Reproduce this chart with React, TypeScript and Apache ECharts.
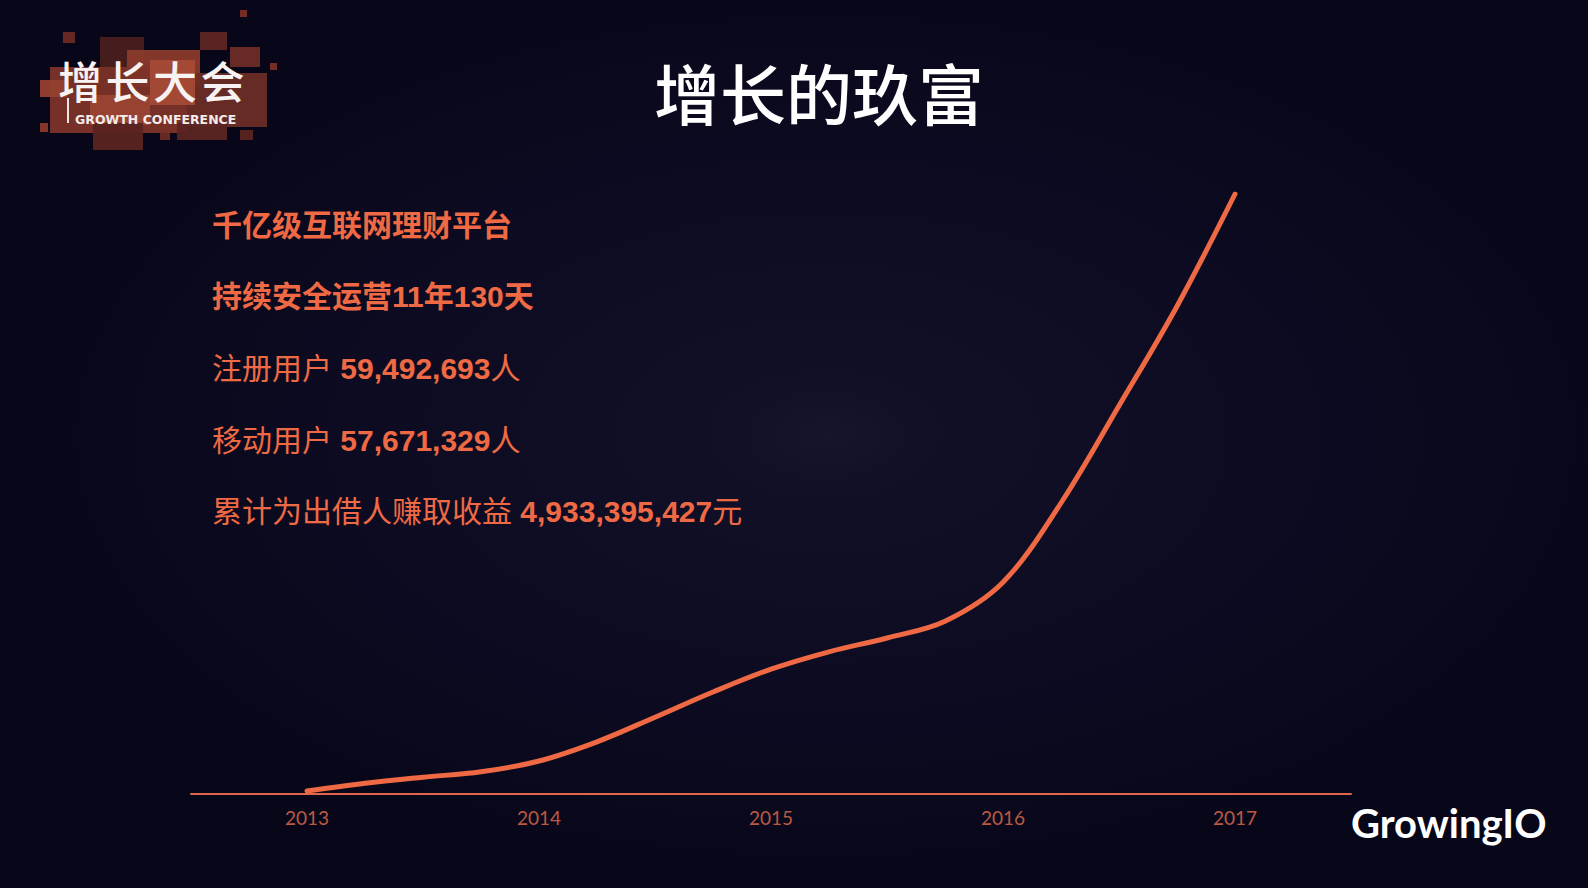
import React, { useEffect, useRef } from "react";
import * as echarts from "echarts";

const yearLabels = ["2013", "2014", "2015", "2016", "2017"];
const curveYears = [2013, 2013.25, 2013.5, 2013.75, 2014, 2014.25, 2014.5, 2014.75, 2015, 2015.25, 2015.5, 2015.75, 2016, 2016.25, 2016.5, 2016.75, 2017];
const curveValues = [0.5, 1.8, 2.8, 3.7, 5.5, 8.7, 12.8, 17, 20.8, 23.7, 26, 28.8, 35.3, 48.5, 64.7, 81.3, 100];

const titleText = "增长的玖富";
const logoChars = ["增", "长", "大", "会"];
const boldLines = ["千亿级互联网理财平台", "持续安全运营11年130天"];
const statLabels = ["注册用户 ", "移动用户 ", "累计为出借人赚取收益 "];
const statNumbers = ["59,492,693", "57,671,329", "4,933,395,427"];
const statUnits = ["人", "人", "元"];

// logo pixel squares: [x, y, w, h, color]
const logoSquares: [number, number, number, number, string][] = [
  [240, 10, 7, 7, "#7a2e26"],
  [63, 32, 12, 11, "#6a2a24"],
  [100, 37, 44, 30, "#4a1f1e"],
  [200, 32, 27, 18, "#5e2622"],
  [230, 47, 30, 20, "#6e2c25"],
  [270, 63, 7, 7, "#7a3027"],
  [127, 50, 73, 37, "#8a3a2c"],
  [50, 67, 137, 66, "#7c3329"],
  [187, 73, 80, 54, "#6d2d26"],
  [40, 80, 27, 17, "#93402f"],
  [150, 60, 45, 45, "#a44a36"],
  [90, 95, 60, 30, "#9a4533"],
  [40, 123, 8, 9, "#8a3a2c"],
  [93, 123, 50, 27, "#5a2421"],
  [160, 133, 10, 7, "#6a2a24"],
  [177, 123, 50, 17, "#5c2522"],
  [240, 130, 13, 10, "#5a2421"],
];

export default function App() {
  const ref = useRef<HTMLDivElement>(null);
  useEffect(() => {
    if (!ref.current) return;
    const chart = echarts.init(ref.current, null, { renderer: "svg" });
    const cjk = "'Liberation Sans', 'Noto Sans CJK SC', sans-serif";
    const orange = "#ef6a44";
    const textLines: any[] = [];
    const lineYs = [225, 296, 368, 440, 511];
    boldLines.forEach((t, i) => {
      textLines.push({
        type: "text",
        x: 212,
        y: lineYs[i],
        style: {
          text: t,
          fill: orange,
          font: `bold 30px ${cjk}`,
          verticalAlign: "middle",
        },
      });
    });
    statLabels.forEach((t, i) => {
      textLines.push({
        type: "text",
        x: 212,
        y: lineYs[i + 2],
        style: {
          text: `{a|${t}}{b|${statNumbers[i]}}{a|${statUnits[i]}}`,
          verticalAlign: "middle",
          rich: {
            a: { fill: orange, fontSize: 30, fontFamily: cjk, fontWeight: "normal" },
            b: { fill: orange, fontSize: 30, fontFamily: cjk, fontWeight: "bold" },
          },
        },
      });
    });

    const squares = logoSquares.map(([x, y, w, h, c]) => ({
      type: "rect",
      shape: { x, y, width: w, height: h },
      style: { fill: c, opacity: 0.95 },
      z: 1,
    }));

    const logoTexts = logoChars.map((ch, i) => ({
      type: "text",
      x: 58 + i * 47.5,
      y: 80,
      z: 3,
      style: {
        text: ch,
        fill: "#f6f3f2",
        font: "500 44px 'Noto Sans CJK SC', sans-serif",
        verticalAlign: "middle",
      },
    }));

    chart.setOption({
      animation: false,
      backgroundColor: "#08071a",
      graphic: [
        {
          type: "rect",
          z: -10,
          shape: { x: 0, y: 0, width: 1588, height: 888 },
          style: {
            fill: new echarts.graphic.RadialGradient(0.52, 0.49, 0.5, [
              { offset: 0, color: "#16152c" },
              { offset: 0.12, color: "#121027" },
              { offset: 0.6, color: "#0d0b21" },
              { offset: 1, color: "#08071a" },
            ]),
          },
        },
        ...squares,
        ...logoTexts,
        {
          type: "line",
          z: 3,
          shape: { x1: 68, y1: 98, x2: 68, y2: 123 },
          style: { stroke: "#f0e6e2", lineWidth: 2 },
        },
        {
          type: "text",
          x: 75,
          y: 119,
          z: 3,
          style: {
            text: "GROWTH CONFERENCE",
            fill: "#f3ecea",
            font: "bold 12.5px 'DejaVu Sans', sans-serif",
            verticalAlign: "middle",
          },
        },
        {
          type: "text",
          x: 819,
          y: 91,
          style: {
            text: titleText,
            fill: "#ffffff",
            font: "500 66px 'Noto Sans CJK SC', sans-serif",
            align: "center",
            verticalAlign: "middle",
          },
        },
        ...textLines,
        {
          type: "text",
          x: 1351,
          y: 823,
          style: {
            text: "GrowingIO",
            fill: "#ffffff",
            font: "bold 40px 'Lato', sans-serif",
            verticalAlign: "middle",
          },
        },
      ],
      grid: { left: 191, right: 237, top: 194, bottom: 94, containLabel: false },
      xAxis: [
        {
          type: "category",
          data: yearLabels,
          boundaryGap: true,
          axisLine: { show: true, lineStyle: { color: "#e2664a", width: 2 } },
          axisTick: { show: false },
          axisLabel: {
            color: "#bb5a42",
            fontSize: 19,
            fontFamily: "Lato, sans-serif",
            margin: 14,
          },
          splitLine: { show: false },
        },
        {
          type: "value",
          min: 2012.5,
          max: 2017.5,
          show: false,
          splitLine: { show: false },
        },
      ],
      yAxis: {
        type: "value",
        min: 0,
        max: 100,
        show: false,
        splitLine: { show: false },
      },
      series: [
        {
          type: "line",
          xAxisIndex: 1,
          data: curveYears.map((y, i) => [y, curveValues[i]]),
          smooth: 0.35,
          showSymbol: false,
          lineStyle: { color: orange, width: 5, cap: "round" },
          z: 5,
        },
      ],
    });
    return () => chart.dispose();
  }, []);
  return (
    <div
      ref={ref}
      style={{ position: "fixed", left: 0, top: 0, width: 1588, height: 888 }}
    />
  );
}
